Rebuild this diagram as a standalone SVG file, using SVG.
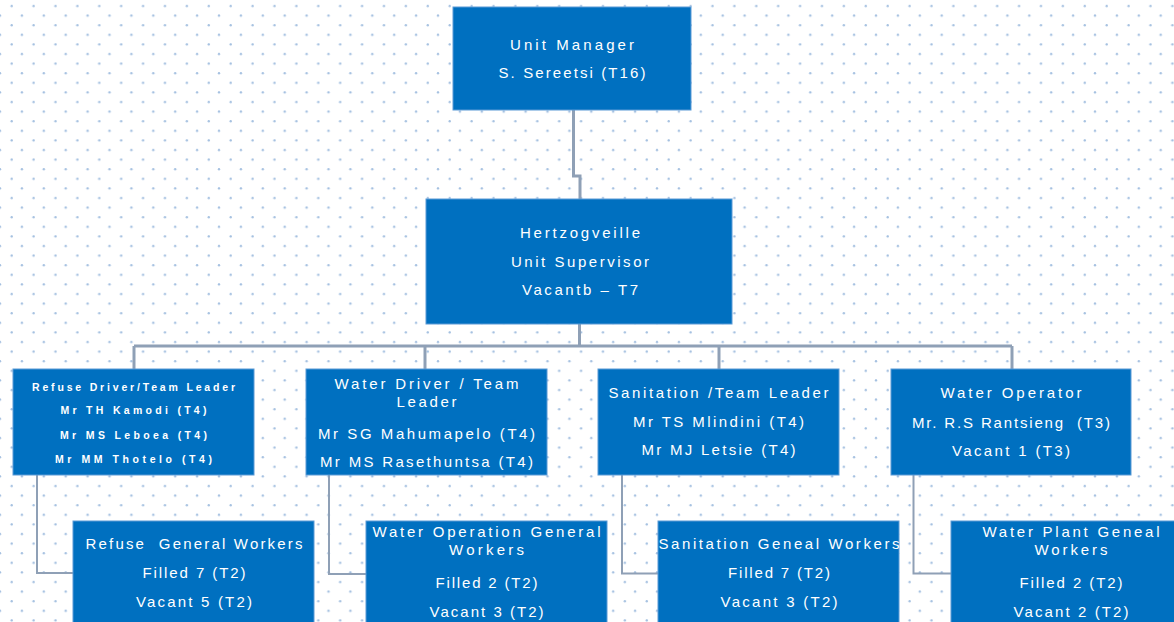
<svg xmlns="http://www.w3.org/2000/svg" width="1174" height="622" viewBox="0 0 1174 622">
  <defs>
    <pattern id="dots" patternUnits="userSpaceOnUse" x="0" y="0" width="21.9" height="19.2">
      <circle cx="11.7" cy="6" r="1.2" fill="#a3bfe0"/>
      <circle cx="0" cy="15.7" r="1.2" fill="#a3bfe0"/>
      <circle cx="21.9" cy="15.7" r="1.2" fill="#a3bfe0"/>
    </pattern>
  </defs>
  <style>
    .box { fill: #0070c0; stroke: #5a9ad6; stroke-width: 1; }
    .t { font-family: "Liberation Sans", Arial, sans-serif; font-size: 15px; fill: #ffffff; text-anchor: middle; }
    .s { font-size: 10.5px; font-weight: bold; }
    .conn { fill: none; stroke: #8fa0b6; stroke-width: 3; }
    .elbow { fill: none; stroke: #8fa0b6; stroke-width: 2; }
  </style>
  <rect x="0" y="0" width="1174" height="622" fill="#ffffff"/>
  <rect x="0" y="0" width="1174" height="622" fill="url(#dots)"/>

  <g id="connectors">
    <path class="conn" d="M573.5,110 V176 H580 V199"/>
    <path class="conn" d="M579.5,324 V346"/>
    <path class="conn" d="M134,346 H1012"/>
    <path class="conn" d="M134,346 V369"/>
    <path class="conn" d="M425,346 V369"/>
    <path class="conn" d="M719,346 V369"/>
    <path class="conn" d="M1012,346 V369"/>
    <path class="elbow" d="M37,475 V573 H73"/>
    <path class="elbow" d="M329,475 V574 H366"/>
    <path class="elbow" d="M622,475 V573.5 H658"/>
    <path class="elbow" d="M913.5,475 V573.5 H951"/>
  </g>

  <g id="unit-manager">
    <rect class="box" x="453" y="7" width="238" height="103"/>
    <text class="t" x="572" y="50" textLength="124" lengthAdjust="spacing">Unit Manager</text>
    <text class="t" x="572" y="78" textLength="147" lengthAdjust="spacing">S. Sereetsi (T16)</text>
  </g>

  <g id="unit-supervisor">
    <rect class="box" x="426" y="199" width="306" height="125"/>
    <text class="t" x="580" y="238" textLength="120" lengthAdjust="spacing">Hertzogveille</text>
    <text class="t" x="580" y="266.5" textLength="138" lengthAdjust="spacing">Unit Supervisor</text>
    <text class="t" x="580" y="295" textLength="116" lengthAdjust="spacing">Vacantb – T7</text>
  </g>

  <g id="refuse-team-leader">
    <rect class="box" x="13" y="369" width="241" height="106"/>
    <text class="t s" x="133.5" y="390.5" textLength="203" lengthAdjust="spacing">Refuse Driver/Team Leader</text>
    <text class="t s" x="133.5" y="414" textLength="146" lengthAdjust="spacing">Mr TH Kamodi (T4)</text>
    <text class="t s" x="133.5" y="438.5" textLength="147" lengthAdjust="spacing">Mr MS Leboea (T4)</text>
    <text class="t s" x="133.5" y="462.5" textLength="157" lengthAdjust="spacing">Mr MM Thotelo (T4)</text>
  </g>

  <g id="water-driver-team-leader">
    <rect class="box" x="306" y="369" width="241" height="106"/>
    <text class="t" x="426.5" y="389" textLength="184" lengthAdjust="spacing">Water Driver / Team</text>
    <text class="t" x="426.5" y="406.5" textLength="60" lengthAdjust="spacing">Leader</text>
    <text class="t" x="426.5" y="439" textLength="217" lengthAdjust="spacing">Mr SG Mahumapelo (T4)</text>
    <text class="t" x="426.5" y="467" textLength="213" lengthAdjust="spacing">Mr MS Rasethuntsa (T4)</text>
  </g>

  <g id="sanitation-team-leader">
    <rect class="box" x="598" y="369" width="241" height="106"/>
    <text class="t" x="718.5" y="397.5" textLength="220" lengthAdjust="spacing">Sanitation /Team Leader</text>
    <text class="t" x="718.5" y="426.5" textLength="171" lengthAdjust="spacing">Mr TS Mlindini (T4)</text>
    <text class="t" x="718.5" y="455" textLength="154" lengthAdjust="spacing">Mr MJ Letsie (T4)</text>
  </g>

  <g id="water-operator">
    <rect class="box" x="891" y="369" width="240" height="106"/>
    <text class="t" x="1011" y="397.5" textLength="141" lengthAdjust="spacing">Water Operator</text>
    <text class="t" x="1011" y="428" textLength="198" lengthAdjust="spacing" xml:space="preserve">Mr. R.S Rantsieng  (T3)</text>
    <text class="t" x="1011" y="455.5" textLength="118" lengthAdjust="spacing">Vacant 1 (T3)</text>
  </g>

  <g id="refuse-general-workers">
    <rect class="box" x="73" y="521" width="241" height="110"/>
    <text class="t" x="194" y="549" textLength="217" lengthAdjust="spacing" xml:space="preserve">Refuse  General Workers</text>
    <text class="t" x="194" y="578" textLength="103" lengthAdjust="spacing">Filled 7 (T2)</text>
    <text class="t" x="194" y="606.5" textLength="116" lengthAdjust="spacing">Vacant 5 (T2)</text>
  </g>

  <g id="water-operation-general-workers">
    <rect class="box" x="366" y="521" width="241" height="110"/>
    <text class="t" x="486.5" y="536.5" textLength="228" lengthAdjust="spacing">Water Operation General</text>
    <text class="t" x="486.5" y="555" textLength="75" lengthAdjust="spacing">Workers</text>
    <text class="t" x="486.5" y="588" textLength="102" lengthAdjust="spacing">Filled 2 (T2)</text>
    <text class="t" x="486.5" y="616.5" textLength="114" lengthAdjust="spacing">Vacant 3 (T2)</text>
  </g>

  <g id="sanitation-general-workers">
    <rect class="box" x="658" y="521" width="241" height="110"/>
    <text class="t" x="779" y="549" textLength="241" lengthAdjust="spacing">Sanitation Geneal Workers</text>
    <text class="t" x="779" y="578" textLength="102" lengthAdjust="spacing">Filled 7 (T2)</text>
    <text class="t" x="779" y="607" textLength="117" lengthAdjust="spacing">Vacant 3 (T2)</text>
  </g>

  <g id="water-plant-general-workers">
    <rect class="box" x="951" y="521" width="241" height="110"/>
    <text class="t" x="1071" y="536.5" textLength="177" lengthAdjust="spacing">Water Plant Geneal</text>
    <text class="t" x="1071" y="555" textLength="73" lengthAdjust="spacing">Workers</text>
    <text class="t" x="1071" y="588" textLength="103" lengthAdjust="spacing">Filled 2 (T2)</text>
    <text class="t" x="1071" y="616.5" textLength="115" lengthAdjust="spacing">Vacant 2 (T2)</text>
  </g>
</svg>
